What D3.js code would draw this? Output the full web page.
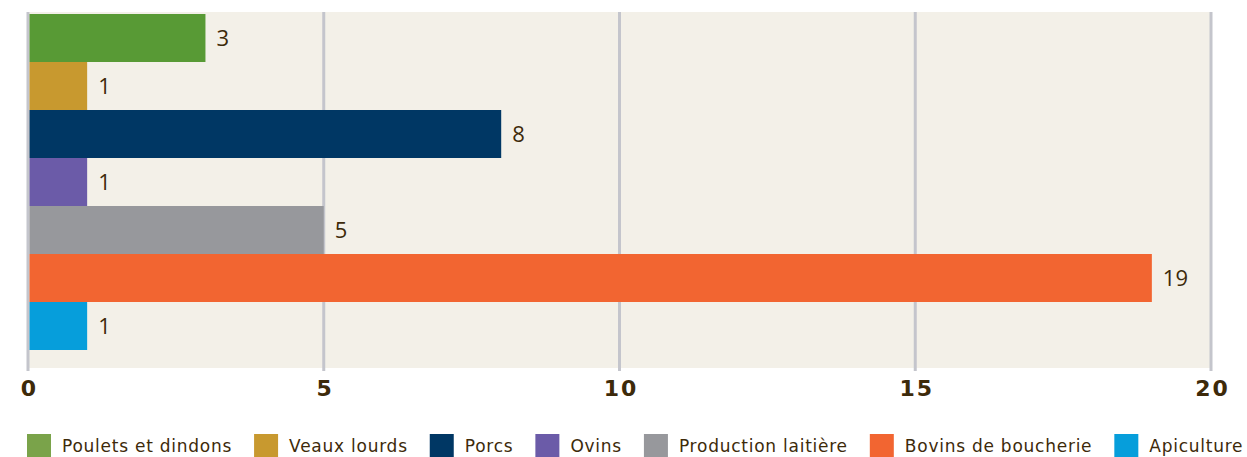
<!DOCTYPE html>
<html>
<head>
<meta charset="utf-8">
<script src="https://cdn.jsdelivr.net/npm/d3@7"></script>
<style>
  body { margin: 0; background: #fff; }
  svg { display: block; font-family: 'Open Sans', sans-serif; }
</style>
</head>
<body>
<div id="chart"></div>
<script>
var categories = ['Poulets et dindons', 'Veaux lourds', 'Porcs', 'Ovins', 'Production laitière', 'Bovins de boucherie', 'Apiculture'];
var values = [3, 1, 8, 1, 5, 19, 1];
var barColors = ['#589a35', '#c8992f', '#003764', '#6b5ba8', '#97989c', '#f26531', '#069edb'];
var legendColors = ['#7aa34a', '#c8992f', '#003764', '#6b5ba8', '#97989c', '#f26531', '#069edb'];
var xTicks = [0, 5, 10, 15, 20];

var width = 1247, height = 457;
var textColor = '#3d2a0a';

var svg = d3.select('#chart').append('svg')
    .attr('width', width)
    .attr('height', height);

var x = d3.scaleLinear().domain([0, 20]).range([28, 1211]);
var y = d3.scaleBand().domain(categories).range([14, 350]).padding(0);

// plot background
svg.append('rect')
    .attr('x', x(0))
    .attr('y', 12)
    .attr('width', x(20) - x(0))
    .attr('height', 356)
    .attr('fill', '#f3f0e8');

// grid lines
svg.append('g')
    .selectAll('line')
    .data(xTicks)
    .enter().append('line')
    .attr('x1', function(d) { return x(d); })
    .attr('x2', function(d) { return x(d); })
    .attr('y1', 12)
    .attr('y2', 371)
    .attr('stroke', '#c4c5cc')
    .attr('stroke-width', 3);

// bars
svg.append('g')
    .selectAll('rect')
    .data(values)
    .enter().append('rect')
    .attr('x', x(0) + 1.5)
    .attr('y', function(d, i) { return y(categories[i]); })
    .attr('width', function(d) { return x(d) - x(0) - 1.5; })
    .attr('height', y.bandwidth())
    .attr('fill', function(d, i) { return barColors[i]; });

// value labels
svg.append('g')
    .selectAll('text')
    .data(values)
    .enter().append('text')
    .attr('x', function(d) { return x(d) + 11; })
    .attr('y', function(d, i) { return y(categories[i]) + y.bandwidth() / 2; })
    .attr('dy', '0.36em')
    .attr('font-size', 22)
    .attr('fill', textColor)
    .text(function(d) { return d; });

// x axis labels
var xAxis = svg.append('g')
    .attr('transform', 'translate(0,370)')
    .call(d3.axisBottom(x).tickValues(xTicks).tickSize(0).tickPadding(10));
xAxis.select('.domain').remove();
xAxis.selectAll('text')
    .attr('font-size', 22)
    .attr('font-weight', 'bold')
    .attr('font-family', "'DejaVu Sans', sans-serif")
    .attr('letter-spacing', 2)
    .attr('dx', 1)
    .attr('fill', textColor);

// legend
var legend = svg.append('g').attr('transform', 'translate(27,434)');
var lx = 0;
categories.forEach(function(c, i) {
  var item = legend.append('g').attr('transform', 'translate(' + lx + ',0)');
  item.append('rect')
      .attr('width', 24)
      .attr('height', 24)
      .attr('fill', legendColors[i]);
  var t = item.append('text')
      .attr('x', 35)
      .attr('y', 18)
      .attr('font-size', 17)
      .attr('font-family', "'DejaVu Sans', sans-serif")
      .attr('letter-spacing', 0.75)
      .attr('fill', textColor)
      .text(c);
  lx += 35 + t.node().getComputedTextLength() + 22;
});
</script>
</body>
</html>
